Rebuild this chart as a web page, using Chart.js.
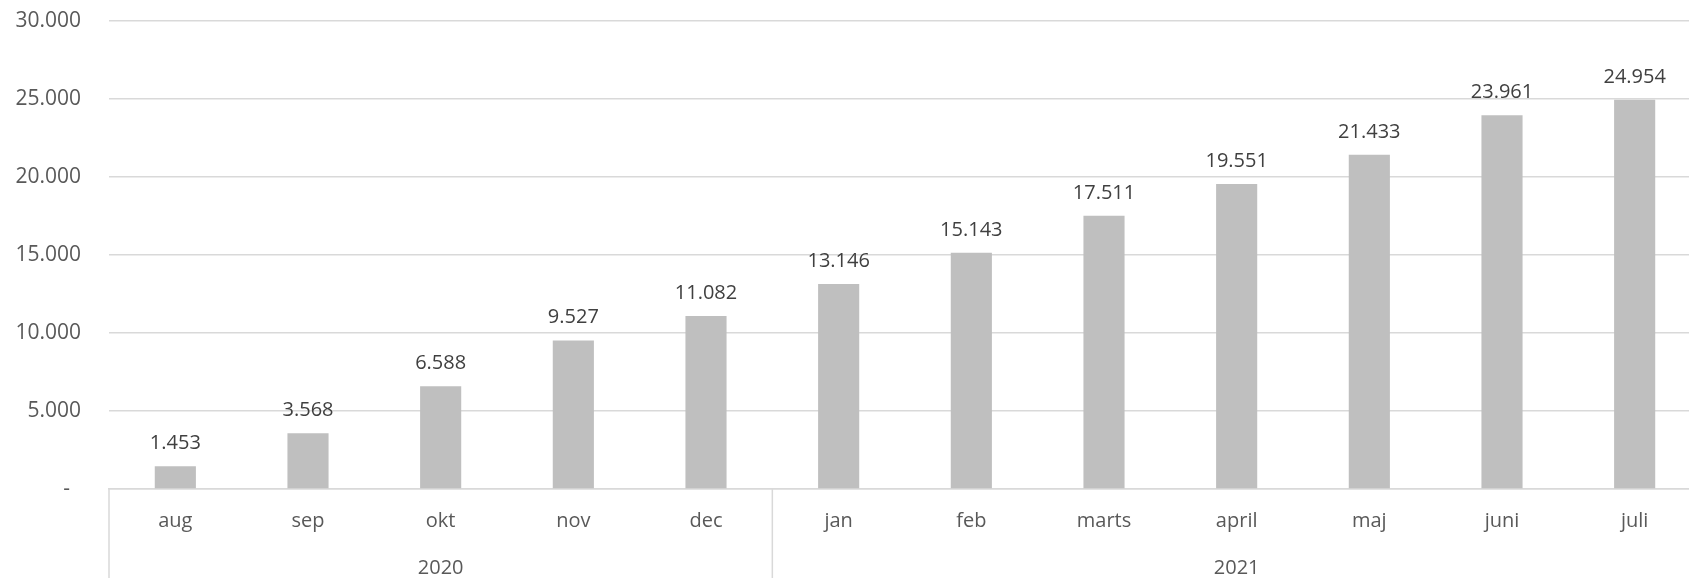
<!DOCTYPE html>
<html>
<head>
<meta charset="utf-8">
<script src="https://cdn.jsdelivr.net/npm/chart.js@4"></script>
<style>
  html, body { margin: 0; padding: 0; background: #fff; overflow: hidden; }
  .chart-box { width: 1701px; height: 578px; }
</style>
</head>
<body>
<div class="chart-box"><canvas id="chart"></canvas></div>
<script>
const months = ['aug', 'sep', 'okt', 'nov', 'dec', 'jan', 'feb', 'marts', 'april', 'maj', 'juni', 'juli'];
const users = [1453, 3568, 6588, 9527, 11082, 13146, 15143, 17511, 19551, 21433, 23961, 24954];
const years = ['2020', '2021'];
const yearSpans = [5, 7];

const FONT = '"Open Sans", sans-serif';
const lineColor = '#d9d9d9';

const formatNumber = (v) => String(v).replace(/\B(?=(\d{3})+(?!\d))/g, '.');

// value labels above the bars
const barLabels = {
  id: 'barLabels',
  afterDatasetsDraw(chart) {
    const ctx = chart.ctx;
    const meta = chart.getDatasetMeta(0);
    ctx.save();
    ctx.font = `20px ${FONT}`;
    ctx.fillStyle = '#404040';
    ctx.textAlign = 'center';
    ctx.textBaseline = 'alphabetic';
    meta.data.forEach((bar, i) => {
      ctx.fillText(formatNumber(users[i]), bar.x, bar.y - 17);
    });
    ctx.restore();
  },
};

// second level of the category axis: years with divider lines
const yearGroups = {
  id: 'yearGroups',
  afterDraw(chart) {
    const { ctx, chartArea } = chart;
    const x = chart.scales.x;
    const half = (x.getPixelForValue(1) - x.getPixelForValue(0)) / 2;
    let start = 0;
    ctx.save();
    ctx.strokeStyle = lineColor;
    ctx.lineWidth = 1.5;
    ctx.font = `20px ${FONT}`;
    ctx.fillStyle = '#595959';
    ctx.textAlign = 'center';
    ctx.textBaseline = 'alphabetic';
    years.forEach((year, i) => {
      const left = x.getPixelForValue(start) - half;
      const right = x.getPixelForValue(start + yearSpans[i] - 1) + half;
      ctx.beginPath();
      ctx.moveTo(left, chartArea.bottom);
      ctx.lineTo(left, chart.height);
      ctx.stroke();
      ctx.fillText(year, (left + right) / 2, 574);
      start += yearSpans[i];
    });
    ctx.restore();
  },
};

const ctx = document.querySelector('#chart').getContext('2d');

new Chart(ctx, {
  type: 'bar',
  data: {
    labels: months,
    datasets: [
      {
        label: 'Brugere',
        data: users,
        backgroundColor: '#bfbfbf',
        barPercentage: 0.31,
        categoryPercentage: 1,
      },
    ],
  },
  plugins: [barLabels, yearGroups],
  options: {
    responsive: true,
    maintainAspectRatio: false,
    animation: false,
    layout: { padding: { top: 21, left: 0, right: 0, bottom: 0 } },
    plugins: {
      legend: { display: false },
      tooltip: { enabled: false },
    },
    scales: {
      x: {
        grid: { display: false, drawTicks: false },
        border: { display: true, color: lineColor, width: 1.5 },
        ticks: {
          color: '#595959',
          font: { family: FONT, size: 20 },
          padding: 20,
          maxRotation: 0,
        },
        afterFit: (scale) => {
          scale.height = 89;
        },
      },
      y: {
        min: 0,
        max: 30000,
        grid: { color: lineColor, lineWidth: 1.5, drawTicks: false },
        border: { display: false },
        ticks: {
          stepSize: 5000,
          color: '#595959',
          font: { family: FONT, size: 21 },
          padding: 28,
          callback: (v) => (v === 0 ? '-  ' : formatNumber(v)),
        },
        afterFit: (scale) => {
          scale.width = 109;
          scale.paddingTop = 0;
          scale.paddingBottom = 0;
        },
      },
    },
  },
});
</script>
</body>
</html>
